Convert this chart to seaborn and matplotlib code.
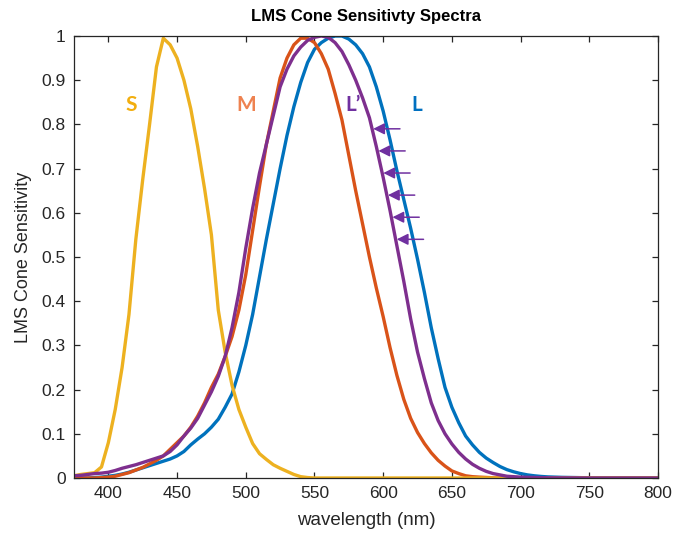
import numpy as np
import pandas as pd
import matplotlib
matplotlib.use("Agg")
import matplotlib.pyplot as plt
import seaborn as sns

# wavelength samples (nm) and normalised cone sensitivities
wl_s = [375, 380, 385, 390, 395, 400, 405, 410, 415, 420, 425, 430, 435, 440, 445,
        450, 455, 460, 465, 470, 475, 480, 485, 490, 495, 500, 505, 510, 515, 520,
        525, 530, 535, 540, 545, 550, 600, 700, 800]
s_cone = [0.005, 0.008, 0.010, 0.012, 0.025, 0.08, 0.155, 0.25, 0.37, 0.54, 0.675, 0.80,
          0.93, 0.995, 0.98, 0.95, 0.90, 0.835, 0.75, 0.655, 0.55, 0.38, 0.285, 0.21,
          0.155, 0.115, 0.078, 0.055, 0.042, 0.03, 0.022, 0.015, 0.008, 0.003, 0.001,
          0.0, 0.0, 0.0, 0.0]

wl_m = [375, 380, 385, 390, 395, 400, 405, 410, 415, 420, 425, 430, 435, 440, 445,
        450, 455, 460, 465, 470, 475, 480, 485, 490, 495, 500, 505, 510, 515, 520,
        525, 530, 535, 540, 545, 550, 555, 560, 565, 570, 575, 580, 585, 590, 595,
        600, 605, 610, 615, 620, 625, 630, 635, 640, 645, 650, 655, 660, 665, 670,
        680, 690, 700, 750, 800]
m_cone = [0.0, 0.0, 0.0, 0.0, 0.001, 0.002, 0.004, 0.008, 0.012, 0.018, 0.024, 0.032,
          0.040, 0.050, 0.065, 0.080, 0.095, 0.115, 0.14, 0.17, 0.205, 0.235, 0.275,
          0.32, 0.38, 0.46, 0.56, 0.66, 0.755, 0.83, 0.905, 0.95, 0.98, 0.995, 0.995,
          0.985, 0.96, 0.925, 0.87, 0.81, 0.73, 0.65, 0.575, 0.5, 0.43, 0.365, 0.295,
          0.232, 0.178, 0.135, 0.103, 0.078, 0.057, 0.04, 0.027, 0.016, 0.01, 0.005,
          0.003, 0.002, 0.0005, 0.0, 0.0, 0.0, 0.0]

wl_l = [375, 380, 385, 390, 395, 400, 405, 410, 415, 420, 425, 430, 435, 440, 445,
        450, 455, 460, 465, 470, 475, 480, 485, 490, 495, 500, 505, 510, 515, 520,
        525, 530, 535, 540, 545, 550, 555, 560, 565, 570, 575, 580, 585, 590, 595,
        600, 605, 610, 615, 620, 625, 630, 635, 640, 645, 650, 655, 660, 665, 670,
        675, 680, 685, 690, 695, 700, 705, 710, 715, 720, 730, 740, 750, 800]
l_cone = [0.0, 0.0, 0.0, 0.001, 0.002, 0.004, 0.006, 0.009, 0.013, 0.018, 0.023, 0.028,
          0.033, 0.038, 0.043, 0.05, 0.06, 0.075, 0.088, 0.10, 0.115, 0.133, 0.16, 0.19,
          0.24, 0.30, 0.37, 0.455, 0.54, 0.62, 0.70, 0.775, 0.84, 0.895, 0.94, 0.97,
          0.985, 0.995, 1.0, 1.0, 0.993, 0.98, 0.96, 0.93, 0.885, 0.83, 0.765, 0.695,
          0.63, 0.565, 0.495, 0.42, 0.34, 0.27, 0.205, 0.16, 0.125, 0.095, 0.075,
          0.058, 0.045, 0.035, 0.026, 0.019, 0.014, 0.01, 0.007, 0.005, 0.0035, 0.0025,
          0.0015, 0.001, 0.0005, 0.0]

wl_lp = [375, 380, 385, 390, 395, 400, 405, 410, 415, 420, 425, 430, 435, 440, 445,
         450, 455, 460, 465, 470, 475, 480, 485, 490, 495, 500, 505, 510, 515, 520,
         525, 530, 535, 540, 545, 550, 555, 560, 565, 570, 575, 580, 585, 590, 595,
         600, 605, 610, 615, 620, 625, 630, 635, 640, 645, 650, 655, 660, 665, 670,
         675, 680, 685, 690, 695, 700, 720, 750, 800]
lp_cone = [0.005, 0.006, 0.008, 0.010, 0.011, 0.013, 0.017, 0.022, 0.026, 0.030, 0.035,
           0.040, 0.045, 0.050, 0.060, 0.075, 0.095, 0.113, 0.135, 0.165, 0.195, 0.23,
           0.275, 0.34, 0.42, 0.52, 0.61, 0.69, 0.755, 0.82, 0.885, 0.925, 0.955, 0.975,
           0.99, 0.997, 1.0, 0.997, 0.985, 0.965, 0.935, 0.90, 0.86, 0.815, 0.75, 0.68,
           0.605, 0.525, 0.445, 0.36, 0.285, 0.225, 0.17, 0.13, 0.10, 0.077, 0.058,
           0.043, 0.031, 0.022, 0.015, 0.01, 0.007, 0.004, 0.003, 0.002, 0.0005, 0.0, 0.0]

x_ticks = [400, 450, 500, 550, 600, 650, 700, 750, 800]
y_ticks = [0, 0.1, 0.2, 0.3, 0.4, 0.5, 0.6, 0.7, 0.8, 0.9, 1]
y_tick_labels = ["0", "0.1", "0.2", "0.3", "0.4", "0.5", "0.6", "0.7", "0.8", "0.9", "1"]

# arrows showing the L -> L' shift
arrow_levels = [0.79, 0.74, 0.69, 0.64, 0.59, 0.54]

c_l, c_m, c_s, c_lp = "#0072BD", "#D95319", "#EDB120", "#7E2F8E"

sns.set_style("ticks")
plt.rcParams["font.family"] = ["Liberation Sans", "DejaVu Sans"]

fig = plt.figure(figsize=(6.74, 5.4), dpi=100)
ax = fig.add_axes([74 / 674, 1 - 478 / 540, 584 / 674, 442 / 540])

lw = 2.4
sns.lineplot(x=wl_l, y=l_cone, color=c_l, lw=lw, ax=ax, sort=False)
sns.lineplot(x=wl_m, y=m_cone, color=c_m, lw=lw, ax=ax, sort=False)
sns.lineplot(x=wl_s, y=s_cone, color=c_s, lw=lw, ax=ax, sort=False)
sns.lineplot(x=wl_lp, y=lp_cone, color=c_lp, lw=lw, ax=ax, sort=False)

ax.set_xlim(375, 800)
ax.set_ylim(0, 1)
ax.set_xticks(x_ticks)
ax.set_yticks(y_ticks, labels=y_tick_labels)

axc = "#262626"
for sp in ax.spines.values():
    sp.set_visible(True)
    sp.set_color(axc)
    sp.set_linewidth(0.9)
ax.tick_params(direction="in", top=True, right=True, length=4, width=0.9,
               color=axc, labelcolor=axc, labelsize=12.5, pad=6)

ax.set_xlabel("wavelength (nm)", fontsize=13.5, color=axc, labelpad=8)
ax.set_ylabel("LMS Cone Sensitivity", fontsize=13, color=axc, labelpad=7)
ax.set_title("LMS Cone Sensitivty Spectra", fontsize=12, fontweight="bold",
             color="black", pad=11)

# curve labels
lab_font = dict(fontsize=15, fontweight="bold", family=["Lato", "DejaVu Sans"],
                ha="center", va="center")
ax.text(417, 0.845, "S", color="#F2AE0F", **lab_font)
ax.text(500, 0.845, "M", color="#EE8250", **lab_font)
ax.text(578, 0.845, "L\u2019", color="#7030A0", **lab_font)
ax.text(624.5, 0.845, "L", color="#0070C0", **lab_font)

# arrow heads sit on the descending flank of L'
wl_lp_arr = np.array(wl_lp)
lp_arr = np.array(lp_cone)
right = wl_lp_arr >= 555
for lev in arrow_levels:
    x_head = np.interp(lev, lp_arr[right][::-1], wl_lp_arr[right][::-1]) + 0.8
    ax.annotate("", xy=(x_head, lev), xytext=(x_head + 19.5, lev),
                arrowprops=dict(arrowstyle="-|>", color="#7030A0", lw=1.1,
                                mutation_scale=17, shrinkA=0, shrinkB=0))

fig.savefig("out.png", dpi=100, facecolor="white")
